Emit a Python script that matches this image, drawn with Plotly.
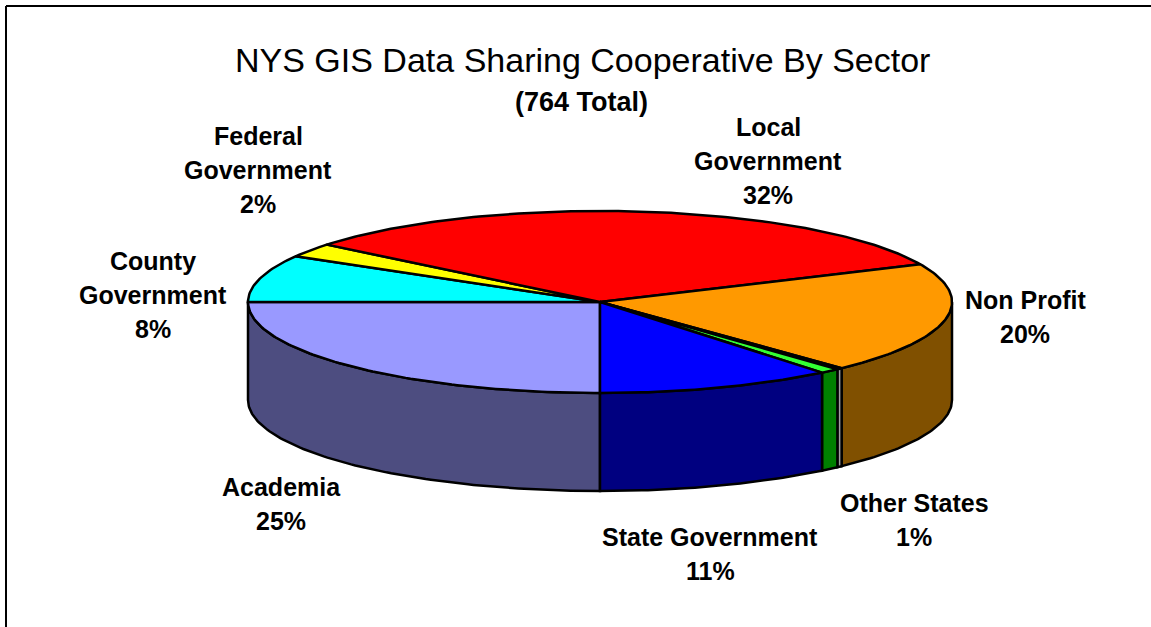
import math
import plotly.graph_objects as go

# Data, clockwise from 6 o'clock
categories = ["Academia", "County Government", "Federal Government", "Local Government",
              "Non Profit", "Unlabelled", "Other States", "State Government"]
values = [191, 64, 19, 247, 151, 2, 7, 83]

# Styles
top_colors = ["#9999ff", "#00ffff", "#ffff00", "#ff0000", "#ff9900", "#ffffe0", "#33ff33", "#0000ff"]
side_colors = ["#4d4d80", "#008080", "#808000", "#800000", "#805000", "#a0a0a0", "#008000", "#000080"]

# Label layout: centre x, first-line y, lines
label_layout = {
    "Academia": (281, 487, ["Academia"]),
    "County Government": (153, 261, ["County", "Government"]),
    "Federal Government": (258, 136, ["Federal", "Government"]),
    "Local Government": (768, 127, ["Local", "Government"]),
    "Non Profit": (1025, 300, ["Non Profit"]),
    "Other States": (914, 503, ["Other States"]),
    "State Government": (710, 537, ["State Government"]),
}
LINE_STEP = 34
CX, CY, RX, RY, DEPTH = 600, 302, 352, 91, 98


def rim(a0, a1, dy=0.0, steps=None):
    """Points on the ellipse; angle in radians clockwise from 6 o'clock."""
    n = steps or max(2, int(abs(a1 - a0) * 60))
    xs, ys = [], []
    for i in range(n + 1):
        a = a0 + (a1 - a0) * i / n
        xs.append(CX - RX * math.sin(a))
        ys.append(CY + RY * math.cos(a) + dy)
    return xs, ys


total = sum(values)
angles = [0.0]
for v in values:
    angles.append(angles[-1] + v / total * 2 * math.pi)

fig = go.Figure()
LINE = dict(color="black", width=2.5)


def add_poly(xs, ys, color):
    fig.add_trace(go.Scatter(x=xs, y=ys, mode="lines", fill="toself", fillcolor=color,
                             line=LINE, hoverinfo="skip", showlegend=False))


# Side walls: only the parts of the rim on the near half of the disc
for i, c in enumerate(side_colors):
    a0, a1 = angles[i], angles[i + 1]
    for lo, hi in ((0.0, math.pi / 2), (3 * math.pi / 2, 2 * math.pi)):
        s, e = max(a0, lo), min(a1, hi)
        if e > s:
            xt, yt = rim(s, e)
            xb, yb = rim(s, e, DEPTH)
            add_poly(xt + xb[::-1] + [xt[0]], yt + yb[::-1] + [yt[0]], c)

# Top face
for i, c in enumerate(top_colors):
    xt, yt = rim(angles[i], angles[i + 1])
    add_poly([CX] + xt + [CX], [CY] + yt + [CY], c)

FONT = "Liberation Sans, Arial, sans-serif"
ann = [
    dict(x=582, y=60, text="NYS GIS Data Sharing Cooperative By Sector",
         font=dict(family=FONT, size=34, color="black")),
    dict(x=581, y=102, text="<b>(764 Total)</b>",
         font=dict(family=FONT, size=27, color="black")),
]
for name, v in zip(categories, values):
    if name not in label_layout:
        continue
    x, y, lines = label_layout[name]
    for j, t in enumerate(lines + [f"{round(v / total * 100)}%"]):
        ann.append(dict(x=x, y=y + j * LINE_STEP, text=f"<b>{t}</b>",
                        font=dict(family=FONT, size=25, color="black")))
for a in ann:
    a.update(xref="x", yref="y", showarrow=False, xanchor="center", yanchor="middle")

fig.update_layout(
    width=1151, height=627, autosize=False,
    margin=dict(l=0, r=0, t=0, b=0),
    paper_bgcolor="white", plot_bgcolor="white",
    xaxis=dict(range=[0, 1151], visible=False, fixedrange=True),
    yaxis=dict(range=[627, 0], visible=False, fixedrange=True),
    annotations=ann,
    shapes=[
        dict(type="line", xref="x", yref="y", x0=6, x1=1151, y0=6, y1=6, line=dict(color="black", width=2)),
        dict(type="line", xref="x", yref="y", x0=6, x1=6, y0=6, y1=627, line=dict(color="black", width=2)),
    ],
)
fig.write_html("out.html", config={"displayModeBar": False},
               post_script="document.body.style.margin='0';document.body.style.overflow='hidden';")
